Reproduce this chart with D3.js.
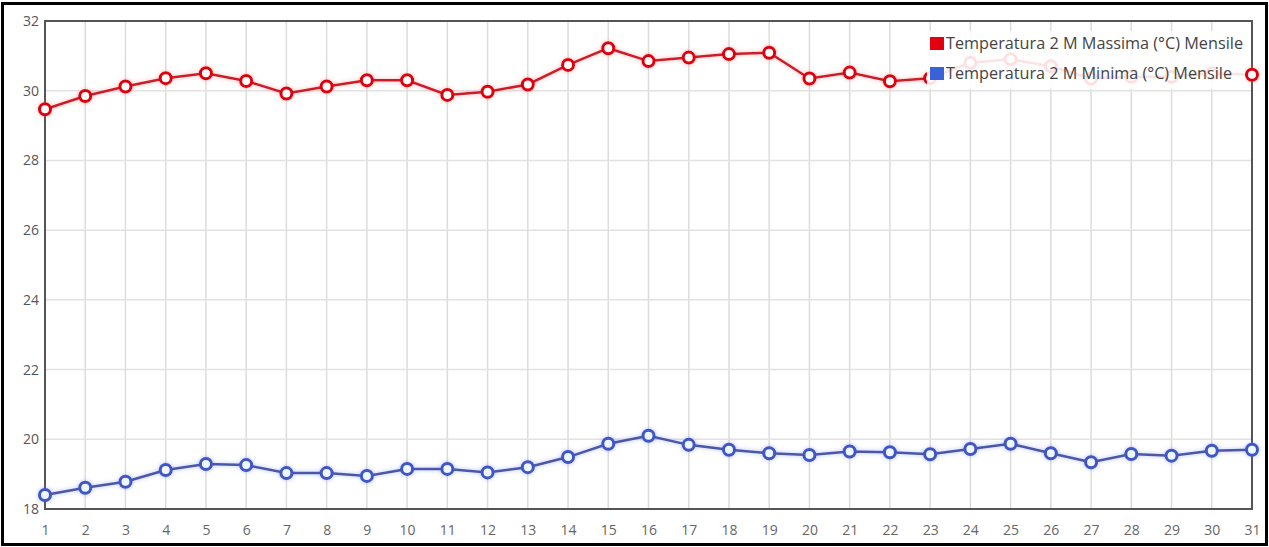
<!DOCTYPE html>
<html><head><meta charset="utf-8">
<script src="https://cdn.jsdelivr.net/npm/d3@7"></script>
<style>
html,body{margin:0;padding:0;background:#fff;}
svg{display:block;font-family:"Open Sans",sans-serif;}
</style></head>
<body>
<svg id="c" width="1269" height="547"></svg>
<script>
const days = d3.range(1, 32);
const seriesNames = ["Temperatura 2 M Massima (°C) Mensile", "Temperatura 2 M Minima (°C) Mensile"];
const maxTemp = [29.47,29.85,30.12,30.36,30.5,30.28,29.92,30.12,30.3,30.3,29.88,29.97,30.18,30.74,31.22,30.85,30.95,31.05,31.09,30.35,30.52,30.27,30.36,30.8,30.9,30.7,30.35,30.4,30.4,30.5,30.46];
const minTemp = [18.4,18.61,18.78,19.12,19.29,19.26,19.03,19.03,18.95,19.15,19.15,19.05,19.2,19.49,19.87,20.1,19.84,19.7,19.6,19.55,19.65,19.63,19.57,19.72,19.87,19.6,19.34,19.58,19.53,19.67,19.7];
const yTicks = [18,20,22,24,26,28,30,32];

const svg = d3.select("#c");
const W = 1269, H = 547;
const m = {l:45, r:1252, t:21, b:509};

svg.append("rect").attr("x",2.5).attr("y",3.5).attr("width",W-5).attr("height",H-6)
  .attr("fill","#fff").attr("stroke","#000").attr("stroke-width",3);

const x = d3.scaleLinear().domain([1,31]).range([m.l,m.r]);
const y = d3.scaleLinear().domain([18,32]).range([m.b,m.t]);

const defs = svg.append("defs");
function glow(id, col){
  const f = defs.append("filter").attr("id",id).attr("x","-20%").attr("y","-50%").attr("width","140%").attr("height","200%");
  f.append("feGaussianBlur").attr("in","SourceAlpha").attr("stdDeviation",2).attr("result","b");
  f.append("feFlood").attr("flood-color",col).attr("flood-opacity",0.5);
  f.append("feComposite").attr("in2","b").attr("operator","in").attr("result","g");
  const mm = f.append("feMerge"); mm.append("feMergeNode").attr("in","g"); mm.append("feMergeNode").attr("in","SourceGraphic");
}
glow("glowR","#ff6b6b");
glow("glowB","#6b7bff");

const grid = svg.append("g");
grid.selectAll("line.v").data(days).join("line")
  .attr("x1",d=>x(d)).attr("x2",d=>x(d)).attr("y1",m.t).attr("y2",m.b)
  .attr("stroke","#dcdcdc").attr("stroke-width",1.5);
grid.selectAll("line.h").data(yTicks).join("line")
  .attr("x1",m.l).attr("x2",m.r).attr("y1",d=>y(d)).attr("y2",d=>y(d))
  .attr("stroke","#e2e2e2").attr("stroke-width",1.5);

svg.append("rect").attr("x",m.l).attr("y",m.t).attr("width",m.r-m.l).attr("height",m.b-m.t)
  .attr("fill","none").attr("stroke","#555").attr("stroke-width",2);

const yAxis = d3.axisLeft(y).tickValues(yTicks).tickSize(0).tickPadding(6);
const gy = svg.append("g").attr("transform",`translate(${m.l},0)`).call(yAxis);
gy.select(".domain").remove();
gy.selectAll("text").attr("font-size",14).attr("fill","#555").attr("font-family","Open Sans");
const xAxis = d3.axisBottom(x).tickValues(days).tickFormat(d3.format("d")).tickSize(0).tickPadding(16);
const gx = svg.append("g").attr("transform",`translate(0,${m.b})`).call(xAxis);
gx.select(".domain").remove();
gx.selectAll("text").attr("font-size",14).attr("fill","#666").attr("font-family","Open Sans");

function drawSeries(vals, line, stroke, fill, filt){
  const g = svg.append("g").attr("filter",`url(#${filt})`);
  g.append("path").datum(vals)
    .attr("d", d3.line().x((d,i)=>x(days[i])).y(d=>y(d)))
    .attr("fill","none").attr("stroke",line).attr("stroke-width",2.5);
  g.selectAll("circle").data(vals).join("circle")
    .attr("cx",(d,i)=>x(days[i])).attr("cy",d=>y(d)).attr("r",5.5)
    .attr("fill",fill).attr("stroke",stroke).attr("stroke-width",3);
}
drawSeries(maxTemp, "#cc1f2a", "#e00010", "#fff", "glowR");
drawSeries(minTemp, "#4b58a8", "#3f56c4", "#eef6ff", "glowB");

const lg = svg.append("g");
lg.append("rect").attr("x",927).attr("y",31).attr("width",318).attr("height",58)
  .attr("fill","#fff").attr("opacity",0.88);
const colors = ["#e3000f","#3a62d8"];
const textLens = [297, 286];
seriesNames.forEach((n,i)=>{
  const yy = 44 + i*30;
  lg.append("rect").attr("x",930).attr("y",yy-7).attr("width",14).attr("height",13).attr("fill",colors[i]);
  lg.append("text").attr("x",946).attr("y",yy+5).attr("font-size",15.5).attr("fill","#444")
    .attr("font-family","Open Sans").attr("textLength",textLens[i]).attr("lengthAdjust","spacingAndGlyphs").text(n);
});
</script>
</body></html>
